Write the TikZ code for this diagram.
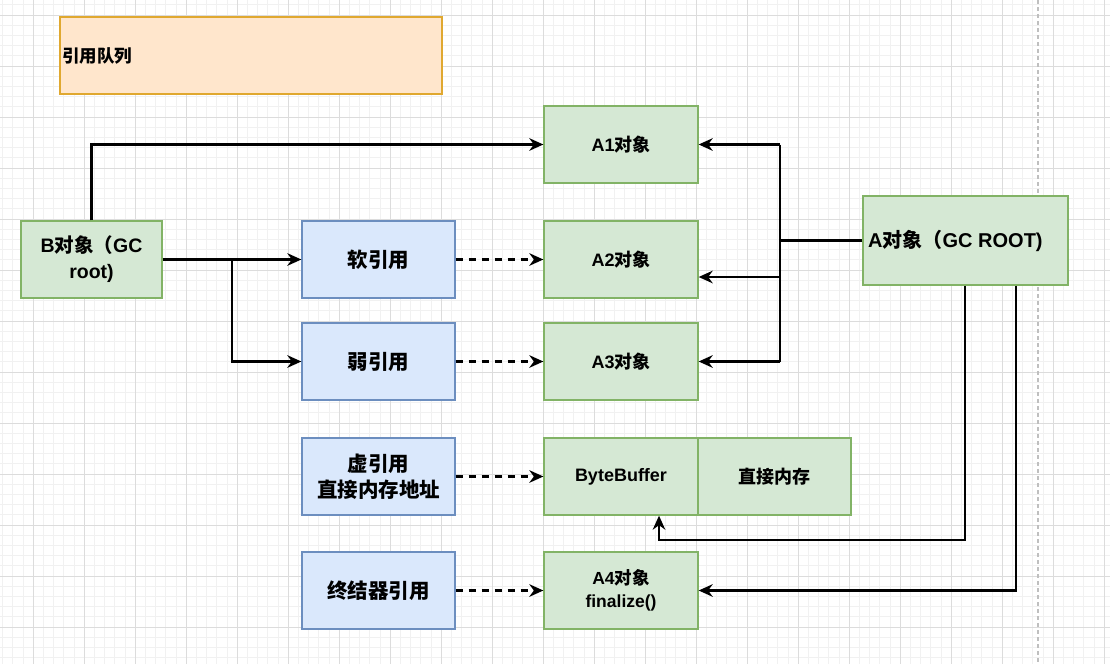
\documentclass[tikz,border=0pt]{standalone}
\usepackage{fontspec}
\setmainfont{Liberation Sans}
\newfontfamily\cjk{Noto Sans CJK SC}
\newcommand\zh[1]{{\cjk #1}}
\usetikzlibrary{arrows.meta}
\definecolor{gfill}{HTML}{D5E8D4}
\definecolor{gdraw}{HTML}{82B366}
\definecolor{bfill}{HTML}{DAE8FC}
\definecolor{bdraw}{HTML}{6C8EBF}
\definecolor{ofill}{HTML}{FFE6CC}
\definecolor{odraw}{HTML}{E0A82F}
\definecolor{gridminor}{HTML}{F1F1F1}
\definecolor{gridmajor}{HTML}{DCDCDC}
\tikzset{
  box/.style={draw, line width=1.3pt, inner sep=0pt, align=center,
    font=\bfseries\fontsize{18}{26}\selectfont},
  gbox/.style={box, fill=gfill, draw=gdraw},
  bbox/.style={box, fill=bfill, draw=bdraw, font=\bfseries\fontsize{20.5}{26}\selectfont},
  conn/.style={line width=2.4pt, -{Stealth[length=14pt,width=12.5pt,inset=4.5pt]}},
  plain/.style={line width=2.4pt},
  dconn/.style={conn, dash pattern=on 7pt off 6pt},
}
\begin{document}
\begin{tikzpicture}[x=1pt,y=-1pt]
\useasboundingbox (0,0) rectangle (1110,664);
\fill[white] (0,0) rectangle (1110,664);
% grid
\foreach \i in {0,...,109} {
  \draw[gridminor, line width=0.8pt] ({2.6+10.2*\i},0) -- ({2.6+10.2*\i},664);
}
\foreach \i in {0,...,65} {
  \draw[gridminor, line width=0.8pt] (0,{4.8+10.2*\i}) -- (1110,{4.8+10.2*\i});
}
\foreach \i in {0,...,21} {
  \draw[gridmajor, line width=0.8pt] ({33+51*\i},0) -- ({33+51*\i},664);
}
\foreach \i in {0,...,13} {
  \draw[gridmajor, line width=0.8pt] (0,{15+51*\i}) -- (1110,{15+51*\i});
}
\draw[gray!50, line width=1.2pt, dash pattern=on 4pt off 3pt] (1038,0) -- (1038,664);

% reference queue
\node[box, fill=ofill, draw=odraw, minimum width=382pt, minimum height=77pt] (queue) at (251,55.5) {};
\node[anchor=west, inner sep=0pt, font=\bfseries\fontsize{17.5}{20}\selectfont] (qlabel) at (62,55.5) {\zh{引用队列}};

% objects
\node[gbox, minimum width=154pt, minimum height=77pt] (A1) at (621,144.5) {A1\zh{对象}};
\node[gbox, minimum width=154pt, minimum height=77pt] (A2) at (621,259.5) {A2\zh{对象}};
\node[gbox, minimum width=154pt, minimum height=77pt] (A3) at (621,361.5) {A3\zh{对象}};
\node[gbox, minimum width=154pt, minimum height=77pt] (BB) at (621,476.5) {ByteBuffer};
\node[gbox, minimum width=153pt, minimum height=77pt] (DM) at (774.5,476.5) {\zh{直接内存}};
\node[gbox, minimum width=154pt, minimum height=77pt, font=\bfseries\fontsize{17.5}{23}\selectfont] (A4) at (621,590.5) {A4\zh{对象}\\finalize()};

\node[gbox, minimum width=141pt, minimum height=77pt, font=\bfseries\fontsize{19.5}{26}\selectfont] (B) at (91.5,259.5) {B\zh{对象（}GC\\root)};
\node[gbox, minimum width=205pt, minimum height=89pt] (A) at (965.5,240.5) {};
\node[anchor=west, inner sep=0pt, font=\bfseries\fontsize{20}{22}\selectfont] (Alabel) at (868,240.5) {A\zh{对象（}GC ROOT)};

% references
\node[bbox, minimum width=153pt, minimum height=77pt] (soft) at (378.5,259.5) {\zh{软引用}};
\node[bbox, minimum width=153pt, minimum height=77pt] (weak) at (378.5,361.5) {\zh{弱引用}};
\node[bbox, minimum width=153pt, minimum height=77pt] (phantom) at (378.5,476.5) {\zh{虚引用}\\\zh{直接内存地址}};
\node[bbox, minimum width=153pt, minimum height=77pt] (final) at (378.5,590.5) {\zh{终结器引用}};

% B connectors
\draw[conn] (B.north) |- (A1.west);
\draw[conn] (B.east) -- (soft.west);
\coordinate (br) at (232,259.5);
\draw[conn] (br) |- (weak.west);

% dashed
\draw[dconn] (soft.east) -- (A2.west);
\draw[dconn] (weak.east) -- (A3.west);
\draw[dconn] (phantom.east) -- (BB.west);
\draw[dconn] (final.east) -- (A4.west);

% A connectors
\coordinate (v1) at (780,144.5);
\coordinate (v0) at (780,240.5);
\coordinate (v2) at (780,277);
\coordinate (v3) at (780,361.5);
\draw[plain] (A.west) -- (v0);
\draw[plain] (v1) -- (v3);
\draw[conn] (v1) -- (A1.east);
\draw[conn] (v2) -- (A2.east |- v2);
\draw[conn] (v3) -- (A3.east);
\coordinate (c1) at (965,540);
\draw[conn] (A.south -| c1) -- (c1) -| ([xshift=38pt]BB.south);
\coordinate (c2) at (1016,590.5);
\draw[conn] (A.south -| c2) |- (A4.east);
\end{tikzpicture}
\end{document}
